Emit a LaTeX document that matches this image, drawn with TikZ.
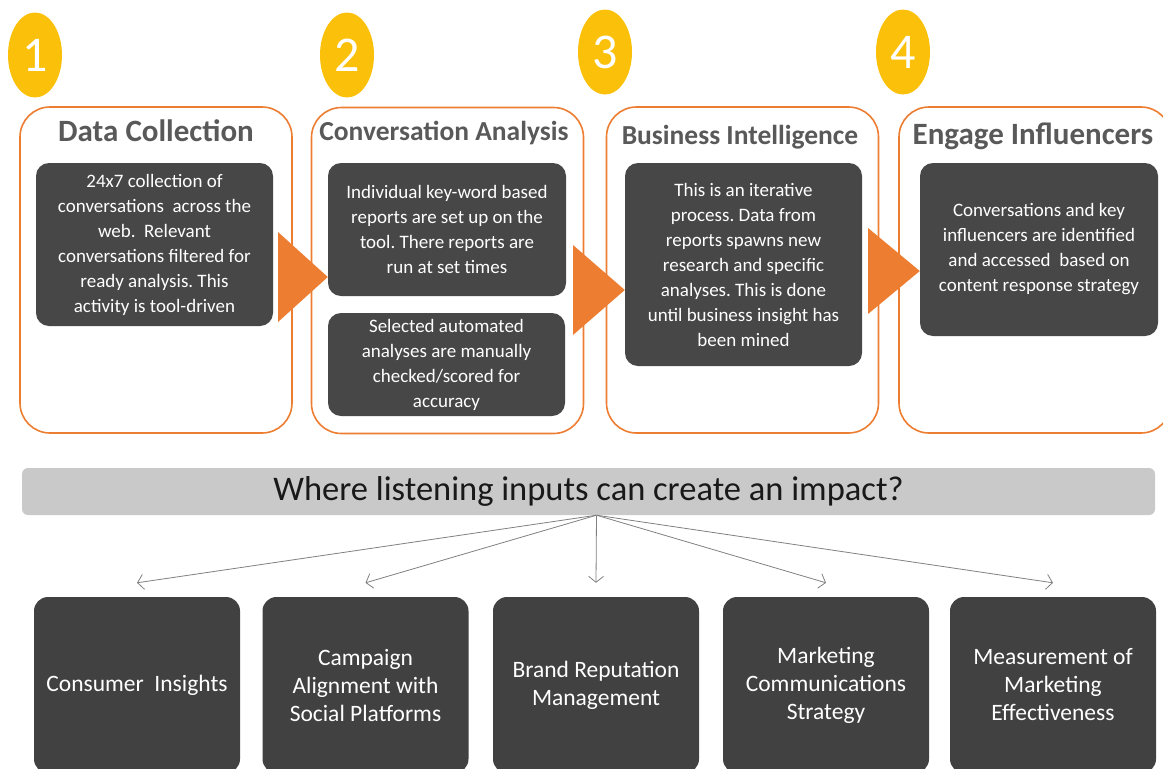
\documentclass[tikz,border=0pt]{standalone}
\usepackage{fontspec}
\setmainfont{Carlito}
\frenchspacing
\usetikzlibrary{positioning, calc, arrows.meta, shapes.geometric}
\definecolor{step_orange}{HTML}{ED7D31}
\definecolor{step_yellow}{HTML}{FBC10A}
\definecolor{panel_dark}{HTML}{474747}
\definecolor{area_dark}{HTML}{414141}
\definecolor{title_gray}{HTML}{595959}
\definecolor{banner_gray}{HTML}{C9C9C9}
\definecolor{fan_gray}{HTML}{808080}
\tikzset{
  panel_font/.style = {font=\fontsize{19}{25}\selectfont},
  title_font/.style = {font=\fontsize{#1}{32}\selectfont\bfseries},
  title_font/.default = 31,
  area_font/.style = {font=\fontsize{23.5}{28}\selectfont},
  banner_font/.style = {font=\fontsize{34.5}{38}\selectfont},
  badge_font/.style = {font=\fontsize{50}{50}\selectfont}
}
\tikzset{
  stage/.style = {draw=step_orange, line width=1.6, rounded corners=30, fill=white,
    minimum width=272, minimum height=326},
  badge/.style = {badge_font, ellipse, fill=step_yellow, text=white,
    minimum width=54, minimum height=85, inner sep=0},
  title/.style = {title_font, text=title_gray, align=center},
  title_small/.style = {title, title_font=27.5},
  panel/.style = {panel_font, fill=panel_dark, text=white, align=center,
    rounded corners=13, inner sep=0},
  banner/.style = {banner_font, fill=banner_gray, text=black!90, rounded corners=6,
    minimum width=1133, minimum height=47, inner sep=0},
  area/.style = {area_font, fill=area_dark, text=white, align=center,
    rounded corners=14, minimum width=206, minimum height=176, inner sep=0},
  fan/.style = {draw=fan_gray, line width=0.8, -{Straight Barb[length=6, width=15]}}
}
\begin{document}
\begin{tikzpicture}[x=1pt, y=-1pt]
    \useasboundingbox (0,0) rectangle (1163,769);
    \clip (0,0) rectangle (1163,769);

    % Stage frames
    \node[stage] (f1) at (156,270) {};
    \node[stage] (f2) at (447.5,270.5) {};
    \node[stage] (f3) at (742.5,270) {};
    \node[stage] (f4) at (1035,270) {};

    % Stage numbers
    \node[badge] (n1) at (35,55) {1};
    \node[badge] (n2) at (347,55) {2};
    \node[badge] (n3) at (605,52) {3};
    \node[badge] (n4) at (903,52) {4};

    % Titles
    \node[title] (t1) at (f1.center |- 0,131) {Data Collection};
    \node[title_small] (t2) at (444,133) {Conversation Analysis};
    \node[title_small] (t3) at (740,137) {Business Intelligence};
    \node[title] (t4) at (1033,136) {Engage Influencers};

    % Stage content
    \node[panel, minimum width=237, minimum height=163] (p1) at (154.5,244.5) {
        24x7 collection of\\
        conversations\ \ across the\\
        web.\ \ Relevant\\
        conversations filtered for\\
        ready analysis. This\\
        activity is tool-driven};
    \node[panel, minimum width=238, minimum height=133] (p2) at (447,229.5) {
        Individual key-word based\\
        reports are set up on the\\
        tool. There reports are\\
        run at set times};
    \node[panel, minimum width=237, minimum height=103] (p2b) at (446.5,364.5) {
        Selected automated\\
        analyses are manually\\
        checked/scored for\\
        accuracy};
    \node[panel, minimum width=237, minimum height=203] (p3) at (743.5,264.5) {
        This is an iterative\\
        process. Data from\\
        reports spawns new\\
        research and specific\\
        analyses. This is done\\
        until business insight has\\
        been mined};
    \node[panel, minimum width=238, minimum height=173] (p4) at (1039,249.5) {
        Conversations and key\\
        influencers are identified\\
        and accessed\ \ based on\\
        content response strategy};

    % Flow triangles
    \fill[step_orange] (278,232) -- (p2.west |- 0,277) -- (278,322) -- cycle;
    \fill[step_orange] (573,245) -- (p3.west |- 0,290) -- (573,335) -- cycle;
    \fill[step_orange] (868,228) -- (p4.west |- 0,271) -- (868,314) -- cycle;

    % Impact banner
    \node[banner] (q) at (588.5,491.5) {Where listening inputs can create an impact?};
    \coordinate (hub) at ([xshift=8]q.south);

    % Impact areas
    \node[area] (i1) at (137,685) {Consumer\ \ Insights};
    \node[area] (i2) at (365.5,685) {Campaign\\ Alignment with\\ Social Platforms};
    \node[area] (i3) at (596,685) {Brand Reputation\\ Management};
    \node[area] (i4) at (826,685) {Marketing\\ Communications\\ Strategy};
    \node[area] (i5) at (1053,685) {Measurement of\\ Marketing\\ Effectiveness};

    % Arrows
    \foreach \i in {1,...,5}
        \draw[fan] (hub) -- ([yshift=14]i\i.north);
\end{tikzpicture}
\end{document}
